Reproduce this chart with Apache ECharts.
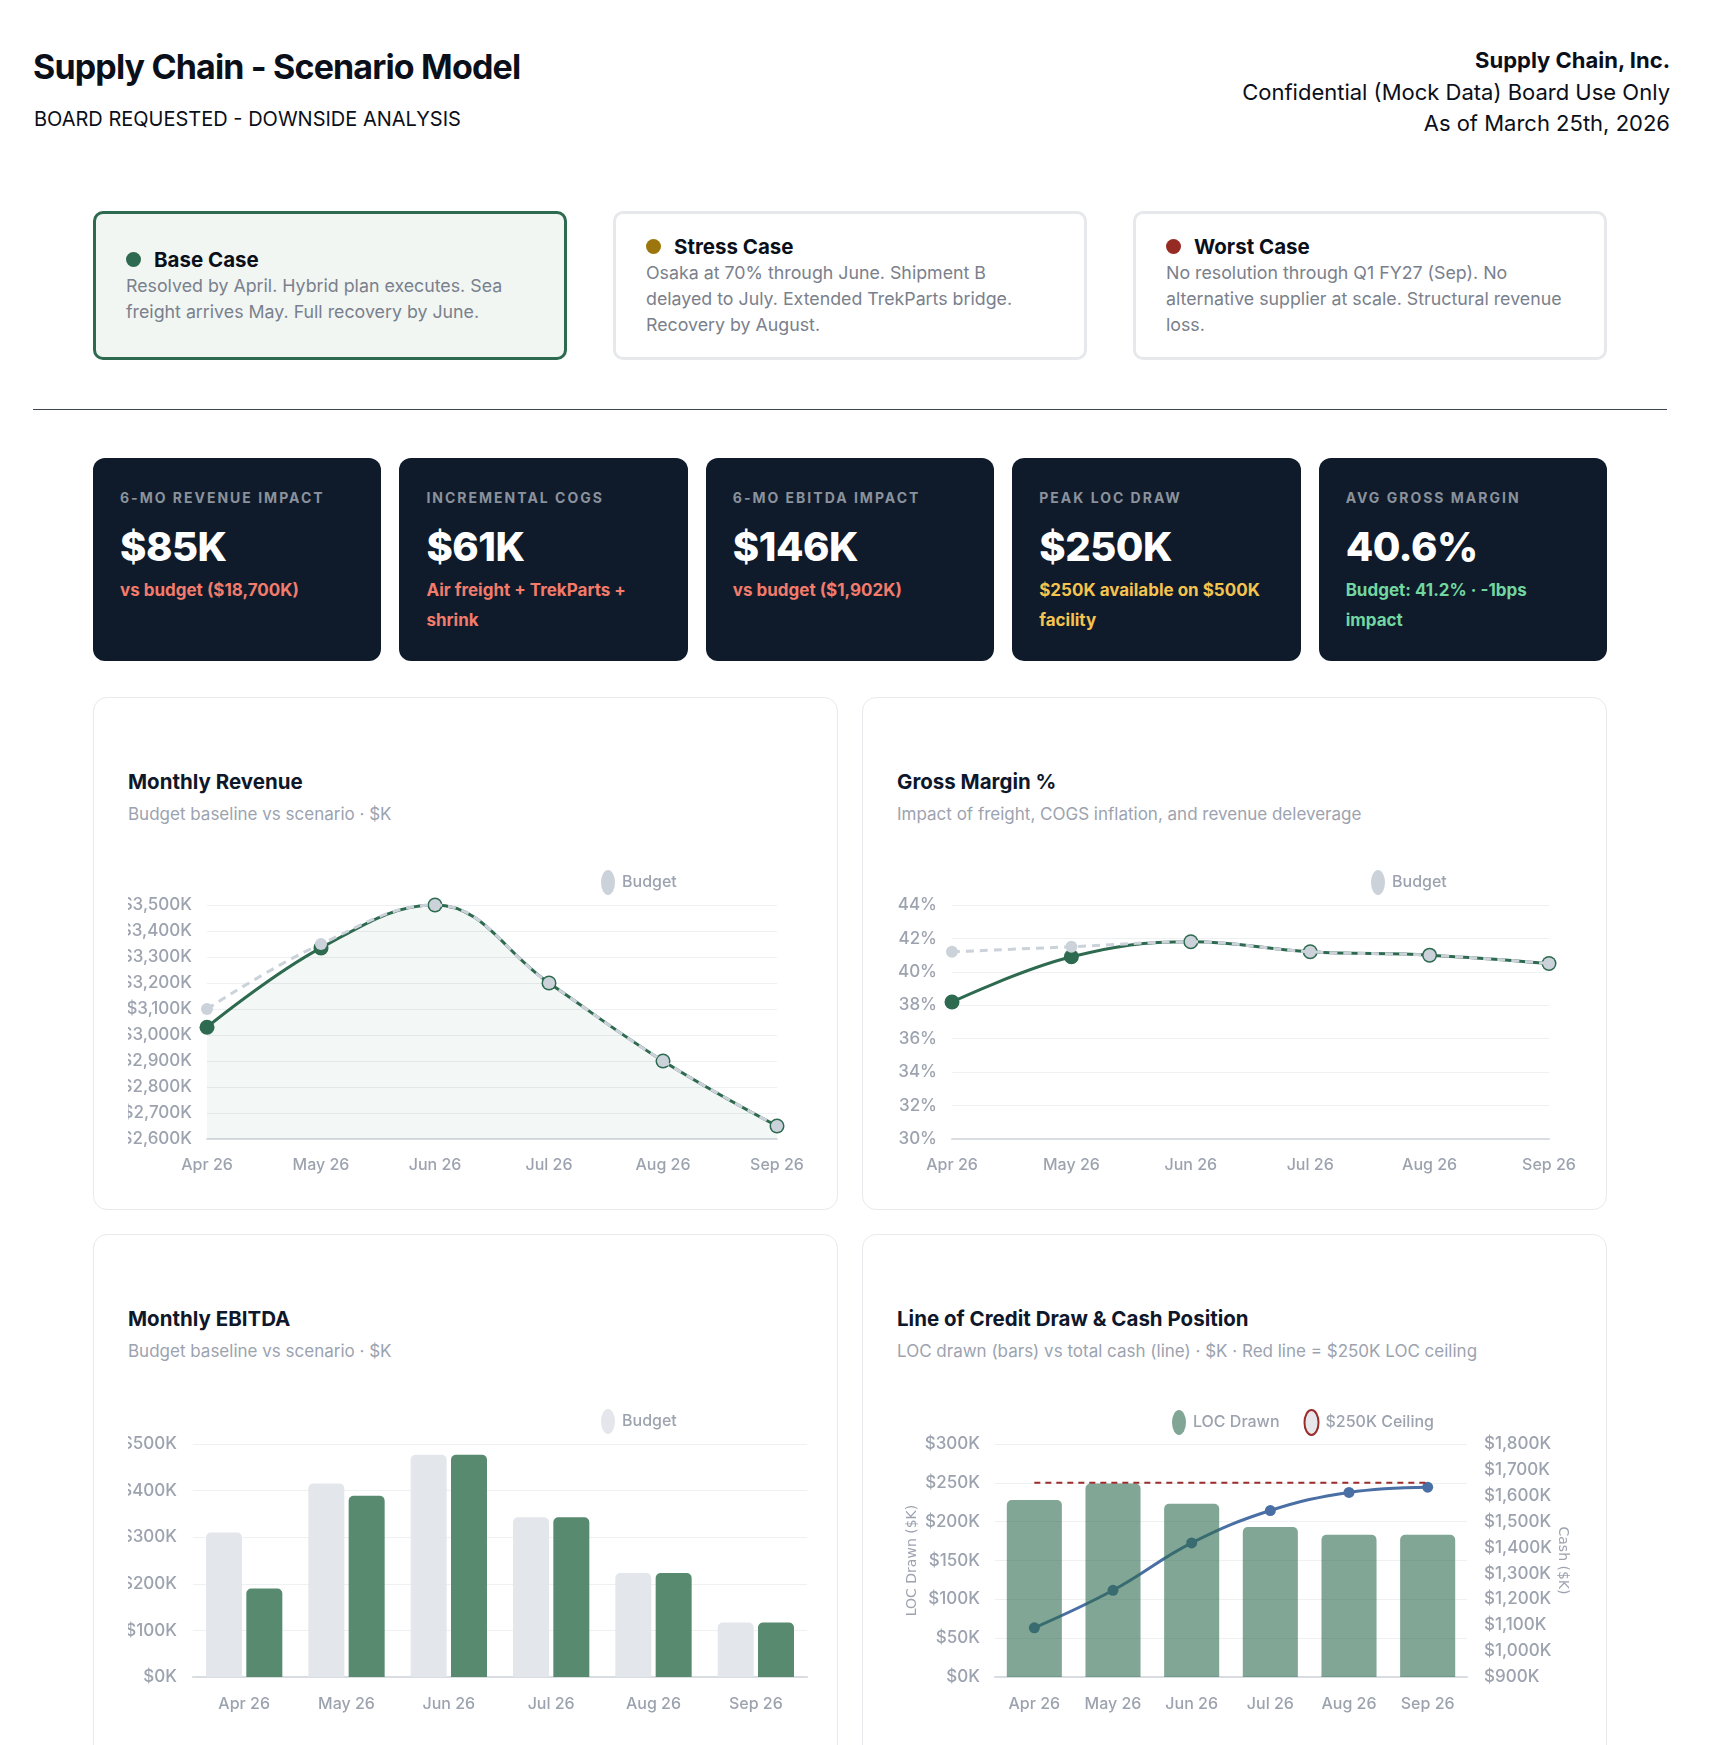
<!DOCTYPE html>
<html>
<head>
<meta charset="utf-8">
<title>Supply Chain - Scenario Model</title>
<script src="https://cdn.jsdelivr.net/npm/echarts@6/dist/echarts.min.js"></script>
<style>
  html, body { margin: 0; padding: 0; background: #fff; }
  body { width: 1722px; height: 1745px; overflow: hidden; position: relative; font-family: Inter, "Noto Sans", sans-serif; color: #0b0f19; }
  .abs { position: absolute; }
  .title { left: 33px; top: 46px; font-size: 34px; line-height: 42px; font-weight: 700; letter-spacing: -0.85px; white-space: nowrap; }
  .subtitle { left: 34px; top: 107px; font-size: 20px; line-height: 24px; font-weight: 400; white-space: nowrap; }
  .meta { right: 52px; top: 45px; text-align: right; font-size: 22px; line-height: 31.5px; white-space: nowrap; }
  .meta b { font-weight: 700; font-size: 22px; }

  .scenarios { left: 93px; top: 211px; width: 1514px; height: 149px; display: flex; gap: 46px; }
  .scn { flex: 1; box-sizing: border-box; border: 3px solid #e6e8eb; border-radius: 10px; background: #fff; padding: 0 30px; display: flex; flex-direction: column; justify-content: center; }
  .scn.active { border-color: #2d6a4f; background: #f1f6f3; }
  .scn h3 { margin: 0; font-size: 20.5px; line-height: 26px; font-weight: 700; display: flex; align-items: center; color: #0b0f19; }
  .scn h3 i { display: inline-block; width: 15px; height: 15px; border-radius: 50%; margin-right: 13px; }
  .scn p { margin: 0; font-size: 17.8px; line-height: 26px; color: #7a808c; white-space: nowrap; }

  .divider { left: 33px; top: 409px; width: 1634px; height: 0; border-top: 1.5px solid #3a4556; }

  .kpis { left: 93px; top: 458px; width: 1514px; height: 203px; display: flex; gap: 18px; }
  .kpi { flex: 1; background: #0f1b2b; border-radius: 12px; padding: 28px 0 0 27px; box-sizing: border-box; }
  .kpi .lbl { font-size: 14px; line-height: 24px; font-weight: 700; letter-spacing: 2px; color: #8b929c; text-transform: uppercase; white-space: nowrap; }
  .kpi .val { margin-top: 12px; font-size: 40px; line-height: 50px; font-weight: 800; color: #fff; letter-spacing: -0.5px; }
  .kpi .sub { margin-top: 3px; font-size: 17px; line-height: 30px; font-weight: 700; white-space: nowrap; }
  .red { color: #f27b6b; } .yel { color: #f5c34f; } .grn { color: #72d6a0; }

  .card { box-sizing: border-box; width: 745px; border: 1.5px solid #e7e9ec; border-radius: 14px; background: #fff; }
  .card h4 { position: absolute; left: 34px; top: 70px; margin: 0; font-size: 20.5px; line-height: 28px; font-weight: 700; color: #0f172a; white-space: nowrap; }
  .card .cs { position: absolute; left: 34px; top: 105px; font-size: 17px; line-height: 22px; color: #9ca3af; white-space: nowrap; }
  .card .chart { position: absolute; left: 34px; top: 129px; width: 698px; height: 360px; }
</style>
</head>
<body>
<div class="abs title">Supply Chain - Scenario Model</div>
<div class="abs subtitle">BOARD REQUESTED - DOWNSIDE ANALYSIS</div>
<div class="abs meta"><b>Supply Chain, Inc.</b><br>Confidential (Mock Data) Board Use Only<br>As of March 25th, 2026</div>

<div class="abs scenarios">
  <div class="scn active">
    <h3><i style="background:#2d6a4f"></i>Base Case</h3>
    <p>Resolved by April. Hybrid plan executes. Sea<br>freight arrives May. Full recovery by June.</p>
  </div>
  <div class="scn">
    <h3><i style="background:#9c760c"></i>Stress Case</h3>
    <p>Osaka at 70% through June. Shipment B<br>delayed to July. Extended TrekParts bridge.<br>Recovery by August.</p>
  </div>
  <div class="scn">
    <h3><i style="background:#962b24"></i>Worst Case</h3>
    <p>No resolution through Q1 FY27 (Sep). No<br>alternative supplier at scale. Structural revenue<br>loss.</p>
  </div>
</div>

<div class="abs divider"></div>

<div class="abs kpis">
  <div class="kpi"><div class="lbl">6-MO Revenue Impact</div><div class="val">$85K</div><div class="sub red">vs budget ($18,700K)</div></div>
  <div class="kpi"><div class="lbl">Incremental COGS</div><div class="val">$61K</div><div class="sub red">Air freight + TrekParts +<br>shrink</div></div>
  <div class="kpi"><div class="lbl">6-MO EBITDA Impact</div><div class="val">$146K</div><div class="sub red">vs budget ($1,902K)</div></div>
  <div class="kpi"><div class="lbl">Peak LOC Draw</div><div class="val">$250K</div><div class="sub yel">$250K available on $500K<br>facility</div></div>
  <div class="kpi"><div class="lbl">Avg Gross Margin</div><div class="val">40.6%</div><div class="sub grn">Budget: 41.2% · -1bps<br>impact</div></div>
</div>

<div class="abs card" style="left:93px; top:697px; height:513px;">
  <h4>Monthly Revenue</h4>
  <div class="cs">Budget baseline vs scenario · $K</div>
  <div class="chart" id="revChart"></div>
</div>
<div class="abs card" style="left:862px; top:697px; height:513px;">
  <h4>Gross Margin %</h4>
  <div class="cs">Impact of freight, COGS inflation, and revenue deleverage</div>
  <div class="chart" id="gmChart"></div>
</div>
<div class="abs card" style="left:93px; top:1234px; height:560px;">
  <h4>Monthly EBITDA</h4>
  <div class="cs">Budget baseline vs scenario · $K</div>
  <div class="chart" id="ebitdaChart"></div>
</div>
<div class="abs card" style="left:862px; top:1234px; height:560px;">
  <h4>Line of Credit Draw &amp; Cash Position</h4>
  <div class="cs">LOC drawn (bars) vs total cash (line) · $K · Red line = $250K LOC ceiling</div>
  <div class="chart" id="locChart"></div>
</div>

<script>
// months shown on every chart
const months = ['Apr 26', 'May 26', 'Jun 26', 'Jul 26', 'Aug 26', 'Sep 26'];

// revenue $K
const revenueBudget = [3100, 3350, 3500, 3200, 2900, 2650];
const revenueScenario = [3030, 3335, 3500, 3200, 2900, 2650];

// gross margin %
const marginBudget = [41.2, 41.5, 41.8, 41.2, 41.0, 40.5];
const marginScenario = [38.2, 40.9, 41.8, 41.2, 41.0, 40.5];

// EBITDA $K
const ebitdaBudget = [310, 415, 477, 343, 223, 117];
const ebitdaScenario = [190, 389, 477, 343, 223, 117];

// line of credit / cash $K
const locDrawn = [228, 249, 223, 193, 183, 183];
const cashTotal = [1090, 1235, 1418, 1543, 1613, 1633];
const locCeiling = [250, 250, 250, 250, 250, 250];

const GREEN = '#2d6a4f';
const BUDGET_LINE = '#cbd2da';
const AXIS_TXT = '#9ca3af';
const FONT = 'Inter';
// tall oval legend marker
const OVAL = 'path://M0,50A50,50,0,1,1,100,50A50,50,0,1,1,0,50Z';

function kFmt(v) {
    return '$' + v.toLocaleString('en-US') + 'K';
}

function baseLegend(left, top, data) {
    return {
        left: left,
        top: top,
        icon: OVAL,
        symbolKeepAspect: false,
        itemWidth: 14,
        itemHeight: 25,
        itemGap: 24,
        padding: 0,
        textStyle: { color: AXIS_TXT, fontSize: 16, fontWeight: 500, fontFamily: FONT, padding: [0, 0, 0, 2] },
        data: data
    };
}

// grid without auto label fitting, labels may run off the canvas edge
function plotGrid(left, right, top, bottom) {
    return { left: left, right: right, top: top, bottom: bottom, containLabel: false, outerBoundsMode: 'none' };
}

function catAxis(gap, labelMargin) {
    return {
        type: 'category',
        data: months,
        boundaryGap: gap,
        axisTick: { show: false },
        axisLine: { lineStyle: { color: '#d9dce1', width: 2 } },
        axisLabel: { color: AXIS_TXT, fontSize: 16, fontWeight: 500, fontFamily: FONT, margin: labelMargin },
        splitLine: { show: false }
    };
}

function valAxis(min, max, step, fmt, margin) {
    return {
        type: 'value',
        min: min,
        max: max,
        interval: step,
        axisLine: { show: false },
        axisTick: { show: false },
        axisLabel: { color: AXIS_TXT, fontSize: 17, fontWeight: 500, fontFamily: FONT, margin: margin, formatter: fmt },
        splitLine: { lineStyle: { color: '#eef0f2', width: 1 } }
    };
}

// 折线：情景 + 预算
function lineSeries(scenario, budget, withArea) {
    let scen = {
        name: 'Scenario',
        type: 'line',
        data: scenario,
        smooth: 0.4,
        symbol: 'circle',
        symbolSize: 15,
        showSymbol: true,
        lineStyle: { color: GREEN, width: 3 },
        itemStyle: { color: GREEN },
        z: 2
    };
    if (withArea) {
        scen.areaStyle = { color: 'rgba(45,106,79,0.08)' };
    }
    return [scen, {
        name: 'Budget',
        type: 'line',
        data: budget,
        smooth: 0.4,
        symbol: 'circle',
        symbolSize: 12,
        lineStyle: { color: BUDGET_LINE, width: 3, type: [8, 6] },
        itemStyle: { color: BUDGET_LINE },
        z: 3
    }];
}

const revChart = echarts.init(document.getElementById('revChart'));
revChart.setOption({
    animation: false,
    textStyle: { fontFamily: FONT },
    legend: baseLegend(473, 43, [{ name: 'Budget', itemStyle: { color: BUDGET_LINE, borderWidth: 0 } }]),
    grid: plotGrid(79, 49, 78, 48),
    xAxis: catAxis(false, 18),
    yAxis: valAxis(2600, 3500, 100, kFmt, 15),
    series: lineSeries(revenueScenario, revenueBudget, true)
});

const gmChart = echarts.init(document.getElementById('gmChart'));
gmChart.setOption({
    animation: false,
    textStyle: { fontFamily: FONT },
    legend: baseLegend(474, 43, [{ name: 'Budget', itemStyle: { color: BUDGET_LINE, borderWidth: 0 } }]),
    grid: plotGrid(55, 46, 78, 48),
    xAxis: catAxis(false, 18),
    yAxis: valAxis(30, 44, 2, '{value}%', 15),
    series: lineSeries(marginScenario, marginBudget, false)
});

const ebitdaChart = echarts.init(document.getElementById('ebitdaChart'));
ebitdaChart.setOption({
    animation: false,
    textStyle: { fontFamily: FONT },
    legend: baseLegend(473, 45, [{ name: 'Budget', itemStyle: { color: '#e3e6ea', borderWidth: 0 } }]),
    grid: plotGrid(65, 19, 80, 47),
    xAxis: catAxis(true, 19),
    yAxis: valAxis(0, 500, 100, kFmt, 16),
    series: [{
        name: 'Budget',
        type: 'bar',
        data: ebitdaBudget,
        barWidth: 36,
        barGap: '12%',
        itemStyle: { color: '#e3e6ea', borderRadius: [5, 5, 0, 0] }
    }, {
        name: 'Scenario',
        type: 'bar',
        data: ebitdaScenario,
        barWidth: 36,
        itemStyle: { color: '#588a70', borderRadius: [5, 5, 0, 0] }
    }]
});

const locChart = echarts.init(document.getElementById('locChart'));
let locLeft = valAxis(0, 300, 50, kFmt, 15);
locLeft.name = 'LOC Drawn ($K)';
locLeft.nameLocation = 'middle';
locLeft.nameGap = 76;
locLeft.nameRotate = 90;
locLeft.nameMoveOverlap = false;
locLeft.nameTextStyle = { color: AXIS_TXT, fontSize: 14, fontFamily: 'DejaVu Sans' };
let locRight = valAxis(900, 1800, 100, kFmt, 17);
locRight.position = 'right';
locRight.splitLine = { show: false };
locRight.name = 'Cash ($K)';
locRight.nameLocation = 'middle';
locRight.nameGap = 89;
locRight.nameRotate = -90;
locRight.nameMoveOverlap = false;
locRight.nameTextStyle = { color: AXIS_TXT, fontSize: 14, fontFamily: 'DejaVu Sans' };

locChart.setOption({
    animation: false,
    textStyle: { fontFamily: FONT },
    legend: baseLegend(275, 45, [
        { name: 'LOC Drawn', itemStyle: { color: 'rgba(45,106,79,0.6)', borderWidth: 0 } },
        { name: '$250K Ceiling', itemStyle: { color: '#e5e7eb', borderColor: '#9b2c2c', borderWidth: 2 } }
    ]),
    grid: plotGrid(98, 128, 80, 47),
    xAxis: catAxis(true, 19),
    yAxis: [locLeft, locRight],
    series: [{
        name: 'Cash',
        type: 'line',
        yAxisIndex: 1,
        data: cashTotal,
        smooth: 0.4,
        symbol: 'circle',
        symbolSize: 11,
        lineStyle: { color: '#4a6fa5', width: 3 },
        itemStyle: { color: '#4a6fa5' },
        z: 2
    }, {
        name: 'LOC Drawn',
        type: 'bar',
        data: locDrawn,
        barCategoryGap: '30%',
        itemStyle: { color: 'rgba(45,106,79,0.6)', borderRadius: [5, 5, 0, 0] },
        z: 3
    }, {
        name: '$250K Ceiling',
        type: 'line',
        data: locCeiling,
        symbol: 'none',
        lineStyle: { color: '#9b2c2c', width: 2, type: [6, 5] },
        z: 4
    }]
});
</script>
</body>
</html>
